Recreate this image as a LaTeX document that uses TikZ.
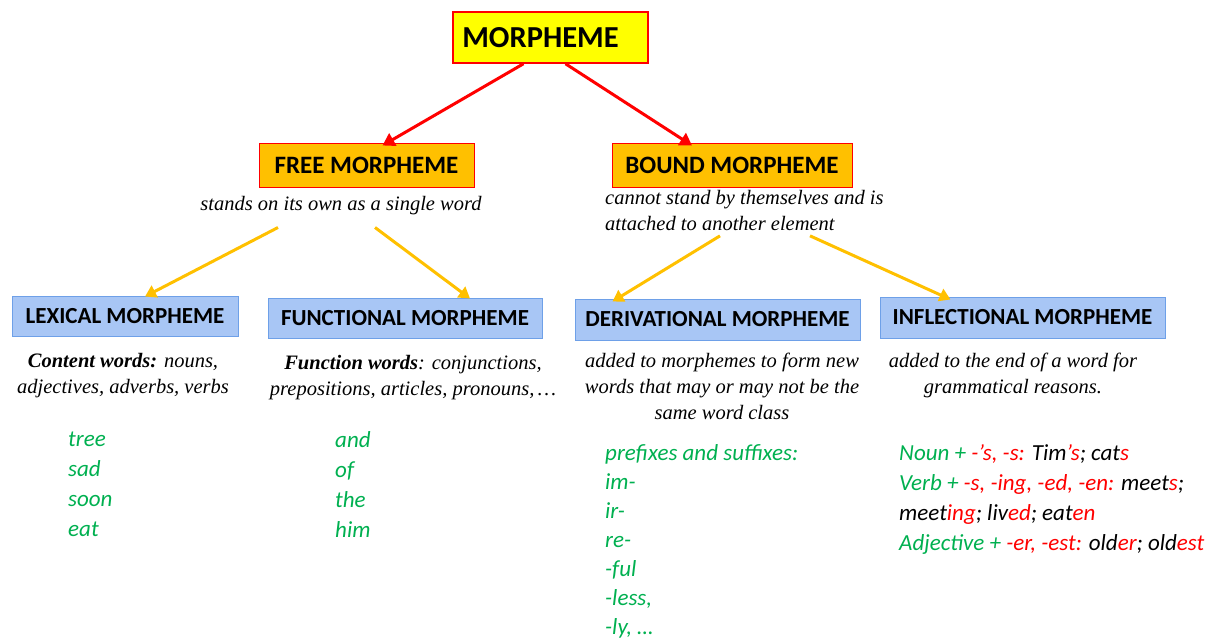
\documentclass[tikz,border=0pt]{standalone}
\usepackage{fontspec}
\setmainfont{Liberation Serif}
\newfontfamily\carl{Carlito}
\usetikzlibrary{arrows.meta,calc}
\definecolor{myyellow}{RGB}{255,255,0}
\definecolor{myred}{RGB}{255,0,0}
\definecolor{myorange}{RGB}{255,192,0}
\definecolor{myblue}{RGB}{168,198,245}
\definecolor{myblueborder}{RGB}{110,160,232}
\definecolor{mygreen}{RGB}{0,176,80}
\tikzset{
  topbox/.style={draw=myred, line width=1.5pt, fill=myyellow, font=\carl\bfseries\fontsize{30.5}{36}\selectfont, inner sep=0pt},
  midbox/.style={draw=myred, line width=1pt, fill=myorange, font=\carl\bfseries\fontsize{25}{28}\selectfont, inner sep=0pt, minimum height=44pt},
  lowbox/.style={draw=myblueborder, line width=1pt, fill=myblue, font=\carl\bfseries\fontsize{23}{26}\selectfont, inner sep=0pt, minimum height=41pt},
  desc/.style={font=\itshape\fontsize{20.5}{26}\selectfont, inner sep=0pt, align=center},
  glist/.style={font=\carl\itshape\fontsize{23}{30}\selectfont, text=mygreen, inner sep=0pt, align=left, anchor=north west},
  redarrow/.style={draw=myred, line width=3pt, -{Triangle[length=12pt,width=14pt]}},
  yelarrow/.style={draw=myorange, line width=3pt, -{Triangle[length=11pt,width=13pt]}},
}
\begin{document}
\begin{tikzpicture}[x=1pt,y=-1pt]
\useasboundingbox (0,0) rectangle (1205,640);
% boxes
\node[topbox, minimum width=195pt, minimum height=51pt] (morph) at (550.5,37.5) {\hspace*{-20pt}MORPHEME};
\node[midbox, minimum width=215pt] (free) at (366.5,165) {FREE MORPHEME};
\node[midbox, minimum width=240pt] (bound) at (732,165) {BOUND MORPHEME};
\node[lowbox, minimum width=226pt, minimum height=40pt] (lex) at (125,316) {LEXICAL MORPHEME};
\node[lowbox, minimum width=274pt, minimum height=40pt] (func) at (405,318) {FUNCTIONAL MORPHEME};
\node[lowbox, minimum width=285pt] (deriv) at (717.5,319.5) {DERIVATIONAL MORPHEME};
\node[lowbox, minimum width=285pt] (infl) at (1022.5,317.5) {INFLECTIONAL MORPHEME};
% descriptions
\node[desc] (freed) at (341,206) {stands on its own as a single word};
\node[desc, align=left, anchor=north west] (boundd) at (605,190) {cannot stand by themselves and is\\attached to another element};
\node[desc] (lexd) at (123,376) {\textbf{Content words:} nouns,\\adjectives, adverbs, verbs};
\node[desc] (funcd) at (413,378) {\textbf{Function words}: conjunctions,\\prepositions, articles, pronouns,\,\dots};
\node[desc] (derivd) at (722,386) {added to morphemes to form new\\words that may or may not be the\\same word class};
\node[desc] (infld) at (1013,375) {added to the end of a word for\\grammatical reasons.};
% green lists
\node[glist] (lexl) at (68,432) {tree\\sad\\soon\\eat};
\node[glist] (funcl) at (335,431) {and\\of\\the\\him};
\node[glist, font=\carl\itshape\fontsize{23}{29}\selectfont] (derivl) at (605,444) {prefixes and suffixes:\\im-\\ir-\\re-\\-ful\\-less,\\-ly, \dots};
\node[glist] (infll) at (899,444) {Noun + {\color{myred}-’s, -s:} {\color{black}Tim{\color{myred}’s}; cat{\color{myred}s}}\\
Verb + {\color{myred}-s, -ing, -ed, -en:} {\color{black}meet{\color{myred}s};}\\
{\color{black}meet{\color{myred}ing}; liv{\color{myred}ed}; eat{\color{myred}en}}\\
Adjective + {\color{myred}-er, -est:} {\color{black}old{\color{myred}er}; old{\color{myred}est}}};
% arrows
\draw[redarrow] ([xshift=-27pt]morph.south) -- ([xshift=16pt,yshift=-3pt]free.north);
\draw[redarrow] ([xshift=15pt]morph.south) -- ([xshift=-40pt,yshift=-3pt]bound.north);
\draw[yelarrow] ([xshift=-63pt,yshift=-12pt]freed.south) -- ([xshift=20pt,yshift=-1pt]lex.north);
\draw[yelarrow] ([xshift=34pt,yshift=-12pt]freed.south) -- ([xshift=65pt,yshift=-1pt]func.north);
\draw[yelarrow] ([xshift=115pt,yshift=-5pt]boundd.south west) -- ([xshift=-105pt,yshift=-3pt]deriv.north);
\draw[yelarrow] ([xshift=205pt,yshift=-5pt]boundd.south west) -- ([xshift=-72pt,yshift=-3pt]infl.north);
\end{tikzpicture}
\end{document}
